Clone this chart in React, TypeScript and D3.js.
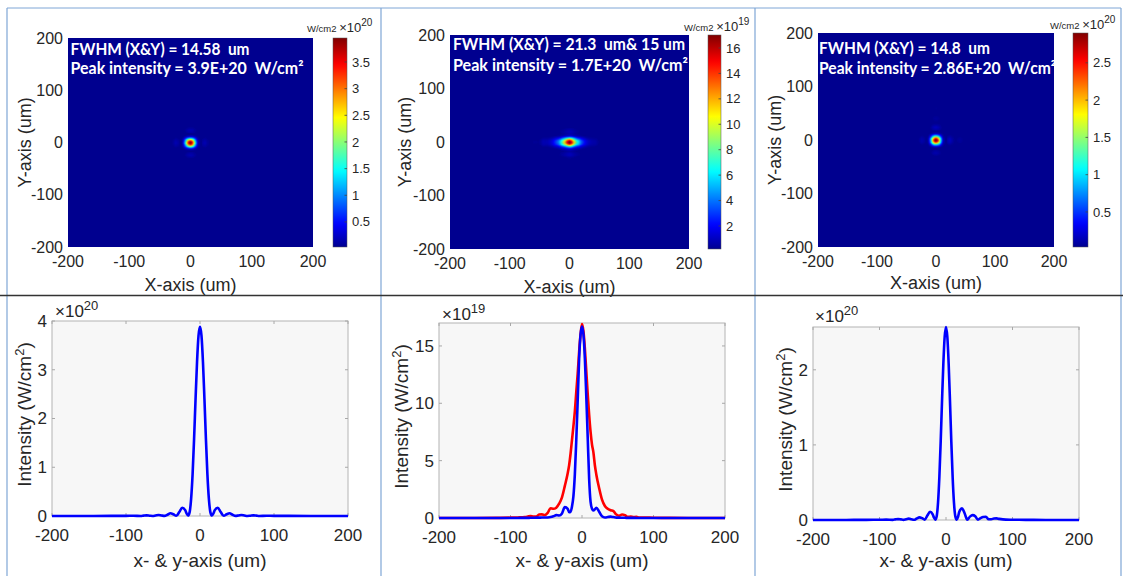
import React from "react";
import * as d3 from "d3";

// ---------- DATA ----------
const profileX = [-200,-150,-120,-100,-90,-80,-76,-72,-68,-64,-60,-56,-52,-48,-44,-40,-36,-32,-28,-24,-20,-18,-16,-14,-12,-10,-8,-6,-4,-2,0,2,4,6,8,10,12,14,16,18,20,24,28,32,36,40,44,48,52,56,60,64,68,72,76,80,90,100,120,150,200];

// left panel profile (x & y identical), units 1e20 W/cm2
const profileLeft = [0,0.001,0.002,0.003,0.004,0.001,0.008,0.012,0.006,0.001,0.012,0.022,0.012,0.002,0.025,0.055,0.035,0.004,0.08,0.17,0.12,0.05,0.01,0.08,0.35,0.86,1.58,2.4,3.16,3.7,3.88,3.7,3.16,2.4,1.58,0.86,0.35,0.08,0.01,0.05,0.12,0.17,0.08,0.004,0.035,0.055,0.025,0.002,0.012,0.022,0.012,0.001,0.006,0.012,0.008,0.001,0.004,0.003,0.002,0.001,0];

// middle panel, units 1e19 W/cm2: red = x profile, blue = y profile
const profileMidRed = [0,0,0.01,0.03,0.05,0.08,0.12,0.17,0.12,0.12,0.3,0.32,0.26,0.45,0.85,0.8,0.9,1.25,1.8,2.8,3.9,4.6,5.6,6.8,8.0,9.3,11.0,12.6,14.5,16.0,16.9,16.3,14.8,12.8,10.8,9.0,7.5,6.4,5.7,4.6,3.8,2.6,1.6,1.05,0.8,0.68,0.6,0.3,0.2,0.3,0.25,0.1,0.12,0.08,0.1,0.05,0.04,0.02,0.01,0,0];
const profileMidBlue = [0,0,0,0,0.005,0.01,0.01,0.02,0.02,0.03,0.03,0.04,0.04,0.05,0.08,0.15,0.25,0.22,0.4,0.95,0.8,0.5,0.55,1.0,1.9,3.8,6.8,10.3,13.9,16.0,16.7,16.0,13.9,10.6,7.0,3.4,1.4,0.8,0.65,0.75,0.9,0.55,0.15,0.05,0.08,0.12,0.08,0.03,0.03,0.02,0.02,0.01,0.01,0.01,0.005,0.005,0,0,0,0,0];

// right panel profile, units 1e20 W/cm2
const profileRight = [0,0.001,0.002,0.003,0.005,0.002,0.008,0.012,0.008,0.002,0.01,0.018,0.01,0.003,0.02,0.035,0.025,0.005,0.06,0.11,0.075,0.03,0.005,0.05,0.23,0.57,1.04,1.58,2.08,2.44,2.57,2.44,2.08,1.58,1.04,0.57,0.23,0.05,0.005,0.04,0.11,0.155,0.09,0.005,0.045,0.065,0.05,0.005,0.025,0.04,0.044,0.01,0.01,0.02,0.022,0.015,0.005,0.004,0.002,0.001,0];

const axisTicks = [-200, -100, 0, 100, 200];
const heatPeaks = [3.9, 17, 2.86];
const colorbarDomains: [number, number][] = [[0.03, 3.95], [0.19, 17.02], [0.03, 2.9]];
const colorbarTicks = [
  [0.5, 1, 1.5, 2, 2.5, 3, 3.5],
  [2, 4, 6, 8, 10, 12, 14, 16],
  [0.5, 1, 1.5, 2, 2.5],
];
const colorbarExps = ["20", "19", "20"];
const annLine1 = ["FWHM (X&Y) = 14.58  um", "FWHM (X&Y) = 21.3  um& 15 um", "FWHM (X&Y) = 14.8  um"];
const annLine2 = ["Peak intensity = 3.9E+20  W/cm²", "Peak intensity = 1.7E+20  W/cm²", "Peak intensity = 2.86E+20  W/cm²"];
const profileDomains: [number, number][] = [[0, 4], [0, 17], [0, 2.57]];
const profileTicks = [[0, 1, 2, 3, 4], [0, 5, 10, 15], [0, 1, 2]];
const profileExps = ["20", "19", "20"];

// ---------- LAYOUT ----------
const FONT = "'Liberation Sans', Arial, Helvetica, sans-serif";
const TXT = "#262626";
const heatBoxes = [
  { x0: 68, x1: 313, y0: 38, y1: 247, cb0: 333, cb1: 347, ytitle: 25, xtitleY: 285, cbLabelX: 307, cbLabelY: 32, annX: 70.5, annY: [55, 74], annW: [179, 233] },
  { x0: 450, x1: 689, y0: 35, y1: 249, cb0: 708, cb1: 721, ytitle: 405, xtitleY: 287, cbLabelX: 684, cbLabelY: 31, annX: 453, annY: [50, 71], annW: [232, 235] },
  { x0: 818, x1: 1054, y0: 33, y1: 247, cb0: 1073, cb1: 1088, ytitle: 775, xtitleY: 283, cbLabelX: 1050, cbLabelY: 29, annX: 819, annY: [54, 74], annW: [171, 237] },
];
const profBoxes = [
  { x0: 52, x1: 348, y0: 321, y1: 516, ytitle: 24, expX: 55, expY: 317 },
  { x0: 439, x1: 725, y0: 323, y1: 518, ytitle: 401, expX: 442, expY: 320 },
  { x0: 813, x1: 1079, y0: 327, y1: 520, ytitle: 785, expX: 815, expY: 322 },
];

const jet = (t: number) => {
  const c = (v: number) => Math.max(0, Math.min(1, v));
  const s = 1 / 64 + (63 / 64) * c(t);
  const r = c(1.5 - Math.abs(4 * s - 3));
  const g = c(1.5 - Math.abs(4 * s - 2));
  const b = c(1.5 - Math.abs(4 * s - 1));
  return d3.rgb(r * 255, g * 255, b * 255).formatHex();
};

function Heatmap({ i, profX, profY }: { i: number; profX: number[]; profY: number[] }) {
  const box = heatBoxes[i];
  const x = d3.scaleLinear().domain([-200, 200]).range([box.x0, box.x1]);
  const y = d3.scaleLinear().domain([-200, 200]).range([box.y1, box.y0]);
  const ix = d3.scaleLinear().domain(profileX).range(profX).clamp(true);
  const iy = d3.scaleLinear().domain(profileX).range(profY).clamp(true);
  const mx = d3.max(profX) as number;
  const my = d3.max(profY) as number;
  const [cmin, cmax] = colorbarDomains[i];
  const c = d3.scaleLinear().domain([cmin, cmax]).range([0, 1]).clamp(true);
  const cbY = d3.scaleLinear().domain([cmin, cmax]).range([box.y1, box.y0]);
  const step = 1.5;
  const cells: { gx: number; gy: number; fill: string }[] = [];
  for (let gx = -90; gx <= 90; gx += step) {
    for (let gy = -90; gy <= 90; gy += step) {
      const v = heatPeaks[i] * (ix(gx) / mx) * (iy(gy) / my);
      const t = c(v);
      if (t < 0.006) continue;
      cells.push({ gx, gy, fill: jet(t) });
    }
  }
  const cw = x(step) - x(0);
  const ch = y(0) - y(step);
  const clipId = `hclip${i}`;
  const gradId = `cbgrad${i}`;
  const stops = d3.range(0, 1.0001, 0.02);
  return (
    <g>
      <defs>
        <clipPath id={clipId}>
          <rect x={box.x0} y={box.y0} width={box.x1 - box.x0} height={box.y1 - box.y0} />
        </clipPath>
        <linearGradient id={gradId} x1="0" y1="1" x2="0" y2="0">
          {stops.map((s) => (
            <stop key={s} offset={s} stopColor={jet(s)} />
          ))}
        </linearGradient>
      </defs>
      <g clipPath={`url(#${clipId})`}>
        <rect x={box.x0} y={box.y0} width={box.x1 - box.x0} height={box.y1 - box.y0} fill={jet(0)} />
        {cells.map((d, k) => (
          <rect key={k} x={x(d.gx - step / 2)} y={y(d.gy + step / 2)} width={cw + 0.3} height={ch + 0.3} fill={d.fill} />
        ))}
        <text fontFamily="Lato, 'Open Sans', sans-serif" fontWeight="bold" fontSize={17} fill="#fff" style={{ whiteSpace: "pre" }}>
          <tspan x={box.annX} y={box.annY[0]} textLength={box.annW[0]} lengthAdjust="spacingAndGlyphs">{annLine1[i]}</tspan>
        </text>
        <text fontFamily="Lato, 'Open Sans', sans-serif" fontWeight="bold" fontSize={17} fill="#fff" style={{ whiteSpace: "pre" }}>
          <tspan x={box.annX} y={box.annY[1]} textLength={box.annW[1]} lengthAdjust="spacingAndGlyphs">{annLine2[i]}</tspan>
        </text>
      </g>
      {/* axis tick labels */}
      {axisTicks.map((t) => (
        <text key={"x" + t} x={x(t)} y={box.y1 + 20} textAnchor="middle" fontFamily={FONT} fontSize={16} fill={TXT}>{t}</text>
      ))}
      {axisTicks.map((t) => (
        <text key={"y" + t} x={box.x0 - 5} y={y(t)} dy="0.35em" textAnchor="end" fontFamily={FONT} fontSize={16} fill={TXT}>{t}</text>
      ))}
      <text x={(box.x0 + box.x1) / 2} y={box.xtitleY} dy="0.35em" textAnchor="middle" fontFamily={FONT} fontSize={18} fill={TXT}>X-axis (um)</text>
      <text transform={`translate(${box.ytitle},${(box.y0 + box.y1) / 2}) rotate(-90)`} dy="0.35em" textAnchor="middle" fontFamily={FONT} fontSize={18} fill={TXT}>Y-axis (um)</text>
      {/* colorbar */}
      <rect x={box.cb0} y={box.y0} width={box.cb1 - box.cb0} height={box.y1 - box.y0} fill={`url(#${gradId})`} stroke="#555" strokeWidth={0.5} />
      {colorbarTicks[i].map((t) => (
        <g key={"cb" + t}>
          <line x1={box.cb1} x2={box.cb1 - 2.5} y1={cbY(t)} y2={cbY(t)} stroke="#444" strokeWidth={0.8} />
          <text x={box.cb1 + 5} y={cbY(t)} dy="0.35em" fontFamily={FONT} fontSize={13} fill={TXT}>{t}</text>
        </g>
      ))}
      <text x={box.cbLabelX} y={box.cbLabelY} fontFamily={FONT} fill={TXT}>
        <tspan fontSize={9.5}>W/cm2 </tspan>
        <tspan fontSize={13}>×10</tspan>
        <tspan fontSize={10} dy={-6}>{colorbarExps[i]}</tspan>
      </text>
    </g>
  );
}

function Profile({ i, series }: { i: number; series: { values: number[]; color: string }[] }) {
  const box = profBoxes[i];
  const x = d3.scaleLinear().domain([-200, 200]).range([box.x0, box.x1]);
  const y = d3.scaleLinear().domain(profileDomains[i]).range([box.y1, box.y0]);
  const line = d3
    .line<number>()
    .x((_, k) => x(profileX[k]))
    .y((d) => y(d))
    .curve(d3.curveMonotoneX);
  const tickCol = "#a8a8a8";
  return (
    <g>
      <rect x={box.x0} y={box.y0} width={box.x1 - box.x0} height={box.y1 - box.y0} fill="#f7f7f7" stroke="#b4b4b4" strokeWidth={1} />
      {axisTicks.map((t) => (
        <g key={"xt" + t}>
          <line x1={x(t)} x2={x(t)} y1={box.y1} y2={box.y1 - 3} stroke={tickCol} />
          <line x1={x(t)} x2={x(t)} y1={box.y0} y2={box.y0 + 3} stroke={tickCol} />
          <text x={x(t)} y={box.y1 + 19} dy="0.35em" textAnchor="middle" fontFamily={FONT} fontSize={17} fill={TXT}>{t}</text>
        </g>
      ))}
      {profileTicks[i].map((t) => (
        <g key={"yt" + t}>
          <line x1={box.x0} x2={box.x0 + 3} y1={y(t)} y2={y(t)} stroke={tickCol} />
          <line x1={box.x1} x2={box.x1 - 3} y1={y(t)} y2={y(t)} stroke={tickCol} />
          <text x={box.x0 - 5} y={y(t)} dy="0.35em" textAnchor="end" fontFamily={FONT} fontSize={17} fill={TXT}>{t}</text>
        </g>
      ))}
      {series.map((s, k) => (
        <path key={k} d={line(s.values) || ""} fill="none" stroke={s.color} strokeWidth={2.6} strokeLinejoin="round" />
      ))}
      <text x={box.expX} y={box.expY} fontFamily={FONT} fill={TXT}>
        <tspan fontSize={17}>×10</tspan>
        <tspan fontSize={13} dy={-7}>{profileExps[i]}</tspan>
      </text>
      <text x={(box.x0 + box.x1) / 2} y={560} dy="0.35em" textAnchor="middle" fontFamily={FONT} fontSize={19} fill={TXT}>x- &amp; y-axis (um)</text>
      <text transform={`translate(${box.ytitle},${(box.y0 + box.y1) / 2 - 4}) rotate(-90)`} dy="0.35em" textAnchor="middle" fontFamily={FONT} fontSize={19} fill={TXT}>
        Intensity (W/cm<tspan fontSize={13} dy={-7}>2</tspan><tspan dy={7}>)</tspan>
      </text>
    </g>
  );
}

export default function App() {
  const frame = "#7fa6d6";
  return (
    <svg width={1123} height={576} style={{ position: "absolute", left: 0, top: 0, background: "#fff" }}>
      <rect x={0} y={0} width={1123} height={576} fill="#fff" />
      <Heatmap i={0} profX={profileLeft} profY={profileLeft} />
      <Heatmap i={1} profX={profileMidRed} profY={profileMidBlue} />
      <Heatmap i={2} profX={profileRight} profY={profileRight} />
      <Profile i={0} series={[{ values: profileLeft, color: "#0000ff" }]} />
      <Profile i={1} series={[{ values: profileMidRed, color: "#ff0000" }, { values: profileMidBlue, color: "#0000ff" }]} />
      <Profile i={2} series={[{ values: profileRight, color: "#0000ff" }]} />
      {/* panel frames */}
      <line x1={7} x2={1121} y1={8} y2={8} stroke={frame} strokeWidth={1} />
      {[7, 381, 755, 1121].map((lx) => (
        <line key={lx} x1={lx} x2={lx} y1={8} y2={576} stroke={frame} strokeWidth={1.2} />
      ))}
      <line x1={0} x2={1123} y1={295.5} y2={295.5} stroke="#333" strokeWidth={1.3} />
    </svg>
  );
}
